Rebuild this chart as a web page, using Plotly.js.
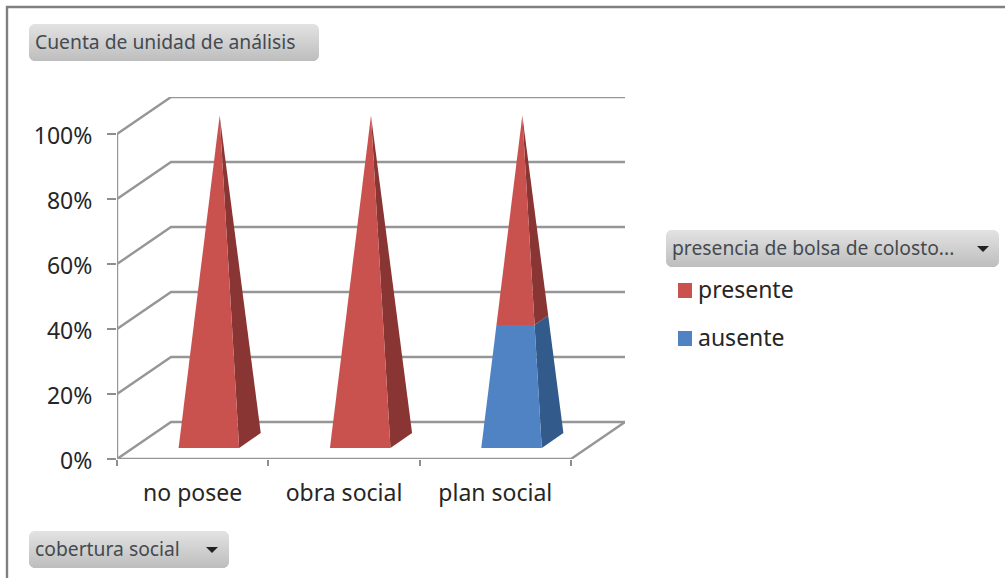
<!DOCTYPE html>
<html>
<head>
<meta charset="utf-8">
<script src="https://cdn.plot.ly/plotly-3.0.1.min.js"></script>
<style>html,body{margin:0;padding:0;background:#fff}#c{width:1005px;height:578px}</style>
</head>
<body>
<div id="c"></div>
<script>
const categories = ['no posee', 'obra social', 'plan social'];
const presente = [100, 100, 63];
const ausente = [0, 0, 37];
const yTicks = [0, 20, 40, 60, 80, 100];
const yTickLabels = ['0%', '20%', '40%', '60%', '80%', '100%'];
const seriesNames = ['presente', 'ausente'];
const frontColors = {presente: '#C9524F', ausente: '#5083C4'};
const sideColors = {presente: '#883533', ausente: '#325A8A'};

// oblique projection of the Excel 3-D box, in axis units
const depthX = 0.357, depthY = 11.38;
const halfW = 0.2, halfD = 0.2;
const proj = (x, pct, d) => [x + d * depthX, pct + d * depthY];
const FONT = 'Noto Sans, Open Sans, sans-serif';

const traces = [];
// walls and floor
const gx = [], gy = [];
yTicks.forEach(t => {
  const a = proj(0, t, 0), b = proj(0, t, 1), c = proj(3, t, 1);
  gx.push(a[0], b[0], c[0], null); gy.push(a[1], b[1], c[1], null);
});
const f0 = proj(0, 0, 0), f3 = proj(3, 0, 0), b3 = proj(3, 0, 1), top0 = proj(0, 100, 0);
gx.push(top0[0], f0[0], f3[0], b3[0]); gy.push(top0[1], f0[1], f3[1], b3[1]);
traces.push({type: 'scatter', mode: 'lines', x: gx, y: gy, connectgaps: false,
  line: {color: '#969696', width: 2.4}, hoverinfo: 'skip', showlegend: false});

// stacked pyramids
function segment(i, lo, hi, name) {
  if (hi <= lo) return;
  const cx = i + 0.5;
  const w = h => halfW * (1 - h / 100), dp = h => halfD * (1 - h / 100);
  const corner = (h, sx, sd) => proj(cx + sx * w(h), h, 0.5 + sd * dp(h));
  const poly = (pts, color) => traces.push({type: 'scatter', mode: 'none', fill: 'toself',
    x: pts.map(p => p[0]).concat(pts[0][0]), y: pts.map(p => p[1]).concat(pts[0][1]),
    fillcolor: color, hoverinfo: 'skip', showlegend: false});
  poly([corner(lo, 1, -1), corner(lo, 1, 1), corner(hi, 1, 1), corner(hi, 1, -1)], sideColors[name]);
  poly([corner(lo, -1, -1), corner(lo, 1, -1), corner(hi, 1, -1), corner(hi, -1, -1)], frontColors[name]);
}
categories.forEach((c, i) => {
  segment(i, 0, ausente[i], 'ausente');
  segment(i, ausente[i], ausente[i] + presente[i], 'presente');
});

// pivot-field chips, painted as stacked 1px gradient rows
const shapes = [], annotations = [];
const W = 1005, H = 578;
const M = {l: 117, r: 380, t: 97, b: 119};
const px = v => (v - M.l) / (W - M.l - M.r), py = v => (H - M.b - v) / (H - M.t - M.b);
function chip(x0, y0, x1, y1, label, arrow) {
  const r = 6, n = y1 - y0;
  for (let k = 0; k < n; k++) {
    const e = Math.min(k + 0.5, n - k - 0.5);
    const inset = e < r ? r - Math.sqrt(r * r - (r - e) * (r - e)) : 0;
    const t = k / (n - 1), v = Math.round(226 - 36 * t);
    shapes.push({type: 'rect', xref: 'paper', yref: 'paper', layer: 'below',
      x0: px(x0 + inset), x1: px(x1 - inset), y0: py(y0 + k), y1: py(y0 + k + 1),
      fillcolor: `rgb(${v},${v},${v})`, line: {width: 0}});
  }
  annotations.push({xref: 'paper', yref: 'paper', x: px(x0 + 3.5), y: py((y0 + y1) / 2 - 1),
    xanchor: 'left', yanchor: 'middle', showarrow: false, text: label,
    font: {family: FONT, size: 19.3, color: '#444A50'}});
  if (arrow) {
    shapes.push({type: 'path', xref: 'paper', yref: 'paper',
      path: `M${px(arrow - 6)},${py((y0 + y1) / 2 - 2.5)} L${px(arrow + 6)},${py((y0 + y1) / 2 - 2.5)} L${px(arrow)},${py((y0 + y1) / 2 + 3.5)} Z`,
      fillcolor: '#222', line: {width: 0}});
  }
}
chip(29, 24, 319, 61, 'Cuenta de unidad de análisis', null);
chip(666, 230, 999, 267, 'presencia de bolsa de colosto...', 983);
chip(29, 531, 229, 568, 'cobertura social', 212);

// legend
const legendY = [290, 338];
seriesNames.forEach((s, i) => {
  shapes.push({type: 'rect', xref: 'paper', yref: 'paper',
    x0: px(678), x1: px(692), y0: py(legendY[i] - 7), y1: py(legendY[i] + 8),
    fillcolor: frontColors[s], line: {width: 0}});
  annotations.push({xref: 'paper', yref: 'paper', x: px(696), y: py(legendY[i] - 1),
    xanchor: 'left', yanchor: 'middle', showarrow: false, text: s,
    font: {family: FONT, size: 23, color: '#262626'}});
});

// outer frame
shapes.push({type: 'path', xref: 'paper', yref: 'paper',
  path: `M${px(7)},${py(578)} L${px(7)},${py(7)} L${px(1005)},${py(7)}`,
  line: {color: '#808080', width: 2.4}});

const layout = {
  width: W, height: H, showlegend: false, hovermode: false,
  paper_bgcolor: '#fff', plot_bgcolor: 'rgba(0,0,0,0)',
  margin: {l: M.l, r: M.r, t: M.t, b: M.b, pad: 0},
  font: {family: FONT, color: '#262626'},
  xaxis: {range: [0, 3.357], showgrid: false, zeroline: false, showline: false,
    tickmode: 'array', tickvals: [0.5, 1.5, 2.5], ticktext: categories, ticks: '',
    tickfont: {size: 23, color: '#262626'}, ticklabelstandoff: 18,
    minor: {tick0: 0, dtick: 1, ticks: 'outside', ticklen: 6, tickwidth: 2, tickcolor: '#8E8E8E', showgrid: false}},
  yaxis: {range: [0, 111.38], showgrid: false, zeroline: false, showline: false,
    tickmode: 'array', tickvals: yTicks, ticktext: yTickLabels,
    ticks: 'outside', ticklen: 9, tickwidth: 2, tickcolor: '#8E8E8E',
    tickfont: {size: 23, color: '#262626'}, ticklabelstandoff: 10, ticklabelshift: 2},
  shapes, annotations
};
Plotly.newPlot('c', traces, layout, {displayModeBar: false, staticPlot: true});
</script>
</body>
</html>
